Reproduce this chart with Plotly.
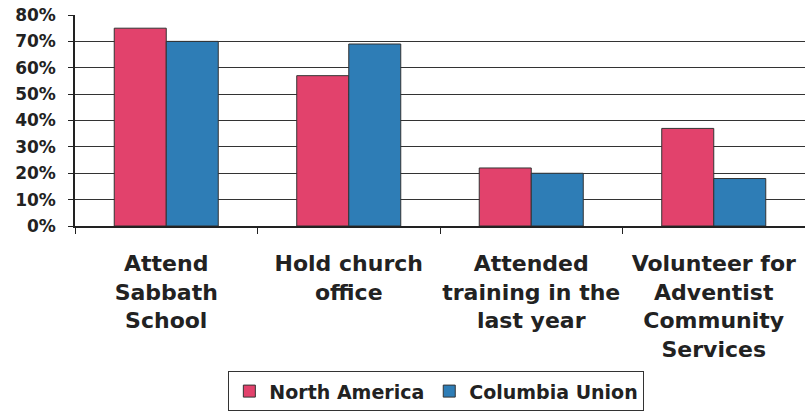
import plotly.graph_objects as go

categories = ["Attend<br>Sabbath<br>School", "Hold church<br>office",
              "Attended<br>training in the<br>last year",
              "Volunteer for<br>Adventist<br>Community<br>Services"]
north_america = [0.75, 0.57, 0.22, 0.37]
columbia_union = [0.70, 0.69, 0.20, 0.18]
y_ticks = [0, 0.1, 0.2, 0.3, 0.4, 0.5, 0.6, 0.7, 0.8]

PINK = "#E2426C"
BLUE = "#2E7DB6"
FONT = "DejaVu Sans, sans-serif"

fig = go.Figure()
fig.add_trace(go.Bar(name="North America", x=categories, y=north_america,
                     marker=dict(color=PINK, line=dict(color="#333", width=1))))
fig.add_trace(go.Bar(name="Columbia Union", x=categories, y=columbia_union,
                     marker=dict(color=BLUE, line=dict(color="#333", width=1))))

fig.update_layout(
    width=805, height=413,
    margin=dict(l=75, r=0, t=15, b=187),
    paper_bgcolor="white", plot_bgcolor="white",
    barmode="group", bargap=0.43, bargroupgap=0,
    font=dict(family=FONT, color="#222"),
    showlegend=True,
    legend=dict(orientation="h", x=0.495, xanchor="center", y=-0.878, yanchor="bottom",
                bordercolor="#333", borderwidth=1,
                font=dict(size=19, family=FONT, weight="bold"),
                itemwidth=30, tracegroupgap=0),
    xaxis=dict(showline=True, linecolor="#222", linewidth=1.5,
               ticks="outside", tickson="boundaries", ticklen=6, tickcolor="#222",
               tickfont=dict(size=22, family=FONT, weight="bold"),
               tickangle=0,
               ticklabelstandoff=17, automargin=False),
    yaxis=dict(range=[0, 0.8], tickvals=y_ticks, tickformat=".0%",
               showgrid=True, gridcolor="#333", gridwidth=1.2,
               showline=True, linecolor="#222", linewidth=1.5,
               ticks="outside", ticklen=5, tickcolor="#222",
               tickfont=dict(size=17, family=FONT, weight="bold"),
               ticklabelstandoff=9,
               automargin=False, zeroline=False),
)

fig.write_html("out.html")
